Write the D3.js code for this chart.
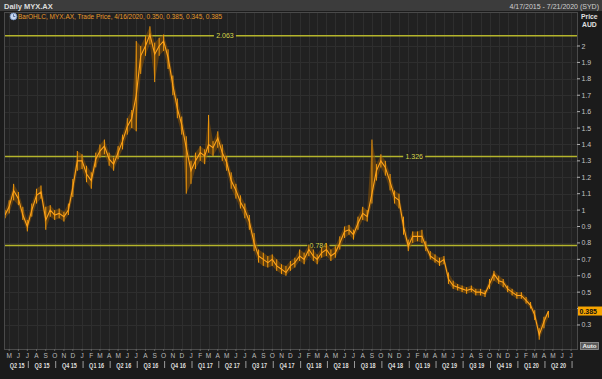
<!DOCTYPE html>
<html><head><meta charset="utf-8">
<script src="https://cdn.jsdelivr.net/npm/d3@7"></script>
<style>html,body{margin:0;padding:0;background:#1b1b1b;}svg{display:block;}</style>
</head><body>
<svg id="c" width="602" height="379"></svg>
<script>
// ---- data ----
const dates = ["2015-04-17","2015-05-01","2015-05-16","2015-06-01","2015-06-16","2015-07-01","2015-07-16","2015-08-01","2015-08-16","2015-09-01","2015-09-16","2015-10-01","2015-10-16","2015-11-01","2015-11-16","2015-12-01","2015-12-16",
"2016-01-01","2016-01-16","2016-02-01","2016-02-16","2016-03-01","2016-03-16","2016-04-01","2016-04-16","2016-05-01","2016-05-16","2016-06-01","2016-06-16","2016-07-01","2016-07-16","2016-08-01","2016-08-16","2016-09-01","2016-09-16","2016-10-01","2016-10-16","2016-11-01","2016-11-16","2016-12-01","2016-12-16",
"2017-01-01","2017-01-16","2017-02-01","2017-02-16","2017-03-01","2017-03-16","2017-04-01","2017-04-16","2017-05-01","2017-05-16","2017-06-01","2017-06-16","2017-07-01","2017-07-16","2017-08-01","2017-08-16","2017-09-01","2017-09-16","2017-10-01","2017-10-16","2017-11-01","2017-11-16","2017-12-01","2017-12-16",
"2018-01-01","2018-01-16","2018-02-01","2018-02-16","2018-03-01","2018-03-16","2018-04-01","2018-04-16","2018-05-01","2018-05-16","2018-06-01","2018-06-16","2018-07-01","2018-07-16","2018-08-01","2018-08-16","2018-09-01","2018-09-16","2018-10-01","2018-10-16","2018-11-01","2018-11-16","2018-12-01","2018-12-16",
"2019-01-01","2019-01-16","2019-02-01","2019-02-16","2019-03-01","2019-03-16","2019-04-01","2019-04-16","2019-05-01","2019-05-16","2019-06-01","2019-06-16","2019-07-01","2019-07-16","2019-08-01","2019-08-16","2019-09-01","2019-09-16","2019-10-01","2019-10-16","2019-11-01","2019-11-16","2019-12-01","2019-12-16",
"2020-01-01","2020-01-16","2020-02-01","2020-02-16","2020-03-01","2020-03-16","2020-04-01","2020-04-16"];
const close = [0.97,1.02,1.12,1.07,0.97,0.90,1.00,1.09,1.11,0.94,1.00,0.97,0.98,0.96,1.00,1.14,1.30,
1.30,1.22,1.18,1.31,1.36,1.39,1.31,1.28,1.35,1.42,1.51,1.56,1.70,1.94,2.00,2.07,1.95,2.00,2.03,1.93,1.76,1.62,1.52,1.38,
1.24,1.30,1.35,1.33,1.40,1.38,1.44,1.35,1.29,1.18,1.12,1.05,1.00,0.93,0.80,0.72,0.70,0.68,0.70,0.66,0.64,0.62,0.66,0.68,
0.72,0.70,0.76,0.72,0.70,0.74,0.76,0.72,0.74,0.80,0.87,0.88,0.85,0.92,0.98,0.96,1.10,1.24,1.30,1.26,1.17,1.08,1.06,0.90,
0.78,0.84,0.84,0.84,0.78,0.72,0.70,0.68,0.70,0.58,0.54,0.53,0.52,0.51,0.52,0.50,0.50,0.49,0.55,0.61,0.57,0.56,0.52,0.50,
0.48,0.48,0.45,0.42,0.36,0.24,0.32,0.385];
const high = [1.00,1.06,1.16,1.11,1.02,0.94,1.04,1.13,1.15,1.02,1.03,1.00,1.01,0.99,1.04,1.19,1.36,
1.34,1.27,1.23,1.35,1.40,1.43,1.35,1.32,1.39,1.46,1.56,1.61,2.03,2.00,2.06,2.12,2.02,2.05,2.07,1.98,1.82,1.68,1.57,1.45,
1.30,1.35,1.39,1.37,1.58,1.42,1.48,1.40,1.33,1.23,1.16,1.09,1.04,0.97,0.86,0.76,0.74,0.72,0.73,0.70,0.67,0.66,0.69,0.71,
0.76,0.74,0.79,0.76,0.73,0.77,0.80,0.76,0.78,0.84,0.90,0.91,0.88,0.96,1.02,1.00,1.43,1.28,1.34,1.30,1.22,1.12,1.10,0.96,
0.82,0.87,0.87,0.88,0.81,0.75,0.73,0.71,0.72,0.62,0.57,0.55,0.54,0.53,0.54,0.52,0.52,0.51,0.58,0.63,0.60,0.58,0.54,0.52,
0.50,0.50,0.47,0.44,0.39,0.28,0.35,0.385];
const low = [0.95,0.98,1.06,1.03,0.94,0.87,0.96,1.04,1.07,0.88,0.96,0.94,0.95,0.93,0.97,1.08,1.24,
1.25,1.17,1.13,1.26,1.32,1.34,1.27,1.24,1.31,1.37,1.46,1.50,1.48,1.83,1.94,2.01,1.78,1.94,1.97,1.86,1.70,1.56,1.46,1.10,
1.16,1.25,1.30,1.28,1.35,1.33,1.38,1.30,1.24,1.13,1.07,1.01,0.95,0.88,0.75,0.68,0.66,0.65,0.66,0.63,0.61,0.60,0.63,0.65,
0.69,0.67,0.72,0.69,0.67,0.71,0.72,0.69,0.71,0.76,0.83,0.85,0.82,0.88,0.94,0.93,1.04,1.18,1.26,1.21,1.12,1.04,1.01,0.85,
0.75,0.80,0.81,0.80,0.75,0.70,0.68,0.66,0.67,0.55,0.52,0.51,0.50,0.49,0.50,0.48,0.48,0.47,0.52,0.57,0.55,0.53,0.50,0.48,
0.46,0.46,0.43,0.40,0.33,0.21,0.28,0.345];
const levels = [2.063, 1.326, 0.784];
const levelLabelDates = ["2017-04-25","2019-01-21","2018-03-05"];
const priceTicks = [0.3,0.4,0.5,0.6,0.7,0.8,0.9,1,1.1,1.2,1.3,1.4,1.5,1.6,1.7,1.8,1.9,2];
const monthLetters = ["J","F","M","A","M","J","J","A","S","O","N","D"];
const lastPrice = 0.385;
const titleText = "Daily MYX.AX";
const rangeText = "4/17/2015 - 7/21/2020 (SYD)";
const legendText = "BarOHLC, MYX.AX, Trade Price, 4/16/2020, 0.350, 0.385, 0.345, 0.385";

// ---- layout ----
const W = 602, H = 379;
const L = 5, R = 577, T = 13, B = 349;
const parse = d3.timeParse("%Y-%m-%d");
const t0 = new Date(2015,3,17), t1 = new Date(2020,6,21);
const x = d3.scaleTime().domain([t0,t1]).range([L,R]);
const y = d3.scaleLinear().domain([0.1536, 2.2011]).range([B,T]);
const svg = d3.select("#c");
const FONT = "'Liberation Sans', Arial, sans-serif";

svg.append("rect").attr("width",W).attr("height",H).attr("fill","#1b1b1b");
// title bar
svg.append("rect").attr("x",0).attr("y",0).attr("width",W).attr("height",11).attr("fill","#3c3c3c");
svg.append("text").attr("x",4).attr("y",8.5).attr("fill","#dcdcdc").attr("font-family",FONT)
  .attr("font-size",7.5).attr("font-weight","bold").text(titleText);
svg.append("text").attr("x",599).attr("y",8.5).attr("fill","#d0d0d0").attr("font-family",FONT)
  .attr("font-size",7).attr("text-anchor","end").text(rangeText);

// plot background
svg.append("rect").attr("x",L).attr("y",T).attr("width",R-L).attr("height",B-T).attr("fill","#212121");
const clip = svg.append("defs").append("clipPath").attr("id","pc");
clip.append("rect").attr("x",L).attr("y",T).attr("width",R-L).attr("height",B-T);
const g = svg.append("g").attr("clip-path","url(#pc)");

// grid
const months = d3.timeMonth.range(d3.timeMonth.ceil(t0), t1);
g.selectAll("line.vg").data(months).join("line")
  .attr("x1",d=>Math.round(x(d))+0.5).attr("x2",d=>Math.round(x(d))+0.5)
  .attr("y1",T).attr("y2",B).attr("stroke","#2e2e2e").attr("stroke-width",1);
g.selectAll("line.hg").data(priceTicks).join("line")
  .attr("x1",L).attr("x2",R).attr("y1",d=>Math.round(y(d))+0.5).attr("y2",d=>Math.round(y(d))+0.5)
  .attr("stroke","#2e2e2e").attr("stroke-width",1);

// level lines
levels.forEach((v,i)=>{
  const yy = y(v);
  const lx = x(parse(levelLabelDates[i]));
  g.append("line").attr("x1",L).attr("x2",R).attr("y1",yy).attr("y2",yy)
    .attr("stroke","#b4b42c").attr("stroke-width",1.5);
  g.append("rect").attr("x",lx-11).attr("y",yy-4).attr("width",22).attr("height",8).attr("fill","#212121");
  g.append("text").attr("x",lx).attr("y",yy+2.5).attr("text-anchor","middle").attr("fill","#d6d64a")
    .attr("font-family",FONT).attr("font-size",7).text(v.toFixed(3));
});

// price series
const pts = dates.map((d,i)=>({t:parse(d),c:close[i],h:high[i],l:low[i]}));
g.append("path").datum(pts)
  .attr("d", d3.area().x(d=>x(d.t)).y0(d=>y(d.l)).y1(d=>y(d.h)))
  .attr("fill","#8a5406").attr("opacity",0.55);
g.selectAll("line.bar").data(pts).join("line")
  .attr("x1",d=>x(d.t)).attr("x2",d=>x(d.t)).attr("y1",d=>y(d.l)).attr("y2",d=>y(d.h))
  .attr("stroke","#f39a0c").attr("stroke-width",1);
g.append("path").datum(pts)
  .attr("d", d3.line().x(d=>x(d.t)).y(d=>y(d.c)))
  .attr("fill","none").attr("stroke","#ffa31a").attr("stroke-width",1.1);

// frame
svg.append("rect").attr("x",L-0.5).attr("y",T-0.5).attr("width",R-L+1).attr("height",B-T+1)
  .attr("fill","none").attr("stroke","#4a4a4a");

// legend
const lg = svg.append("g");
lg.append("circle").attr("cx",13.5).attr("cy",16.5).attr("r",3.4).attr("fill","#c8d8f0").attr("stroke","#6f8fc0").attr("stroke-width",0.8);
lg.append("line").attr("x1",13.5).attr("x2",13.5).attr("y1",16.5).attr("y2",14.2).attr("stroke","#304a80").attr("stroke-width",0.7);
lg.append("line").attr("x1",13.5).attr("x2",15.3).attr("y1",16.5).attr("y2",16.5).attr("stroke","#304a80").attr("stroke-width",0.7);
lg.append("text").attr("x",18).attr("y",19).attr("fill","#e89a2a").attr("font-family",FONT)
  .attr("font-size",7.2).attr("textLength",204).attr("lengthAdjust","spacingAndGlyphs").text(legendText);

// right axis
svg.append("text").attr("x",581).attr("y",19).attr("fill","#e0e0e0").attr("font-family",FONT)
  .attr("font-size",6.8).attr("font-weight","bold").text("Price");
svg.append("text").attr("x",582).attr("y",27).attr("fill","#e0e0e0").attr("font-family",FONT)
  .attr("font-size",6.8).attr("font-weight","bold").text("AUD");
const ra = svg.append("g");
ra.selectAll("line").data(priceTicks).join("line")
  .attr("x1",R).attr("x2",R+3).attr("y1",d=>y(d)).attr("y2",d=>y(d)).attr("stroke","#b0b0b0");
ra.selectAll("text").data(priceTicks.filter(v=>Math.abs(v-0.4)>0.01)).join("text")
  .attr("x",R+4.5).attr("y",d=>y(d)+2.5).attr("fill","#c4c4c4").attr("font-family",FONT)
  .attr("font-size",7).text(d=>d3.format("~g")(d));
// last price tag
const ly = y(lastPrice);
svg.append("rect").attr("x",R+1).attr("y",ly-4.5).attr("width",24).attr("height",9).attr("fill","#f7a400");
svg.append("text").attr("x",R+2.5).attr("y",ly+2.6).attr("fill","#111").attr("font-family",FONT)
  .attr("font-size",7).attr("font-weight","bold").text(lastPrice.toFixed(3));
// Auto button
svg.append("rect").attr("x",580.5).attr("y",342.5).attr("width",18).attr("height",7).attr("fill","#5a5a5a").attr("stroke","#9a9a9a").attr("stroke-width",0.8);
svg.append("text").attr("x",589.5).attr("y",348.3).attr("text-anchor","middle").attr("fill","#f0f0f0").attr("font-family",FONT)
  .attr("font-size",6.2).attr("font-weight","bold").text("Auto");

// bottom axis: months
const ax = svg.append("g");
ax.selectAll("line").data(months).join("line")
  .attr("x1",d=>x(d)).attr("x2",d=>x(d)).attr("y1",B).attr("y2",B+2).attr("stroke","#666");
ax.selectAll("text").data(months).join("text")
  .attr("x",d=>x(d)).attr("y",358).attr("text-anchor","middle").attr("fill","#bcbcbc")
  .attr("font-family",FONT).attr("font-size",6.5).text(d=>monthLetters[d.getMonth()]);
// quarters
const qStarts = d3.timeMonth.every(3).range(d3.timeMonth.floor(t0), t1);
const qb = qStarts.filter(d=>d>t0);
ax.selectAll("line.qs").data(qb).join("line")
  .attr("x1",d=>x(d)+1).attr("x2",d=>x(d)+1).attr("y1",361).attr("y2",368).attr("stroke","#bcbcbc").attr("stroke-width",0.8);
const quarters = qStarts.map(d=>{
  const s = d<t0?t0:d; const e0 = d3.timeMonth.offset(d,3); const e = e0>t1?t1:e0;
  return {s,e,label:"Q"+(Math.floor(d.getMonth()/3)+1)+" "+String(d.getFullYear()).slice(2)};
}).filter(q=>x(q.e)-x(q.s)>16);
ax.selectAll("text.q").data(quarters).join("text")
  .attr("x",d=>(x(d.s)+x(d.e))/2+1).attr("y",367.5).attr("text-anchor","middle").attr("fill","#dedede")
  .attr("font-family",FONT).attr("font-size",6.8).attr("font-weight","bold")
  .attr("textLength",15).attr("lengthAdjust","spacingAndGlyphs").text(d=>d.label);
</script>
</body></html>
